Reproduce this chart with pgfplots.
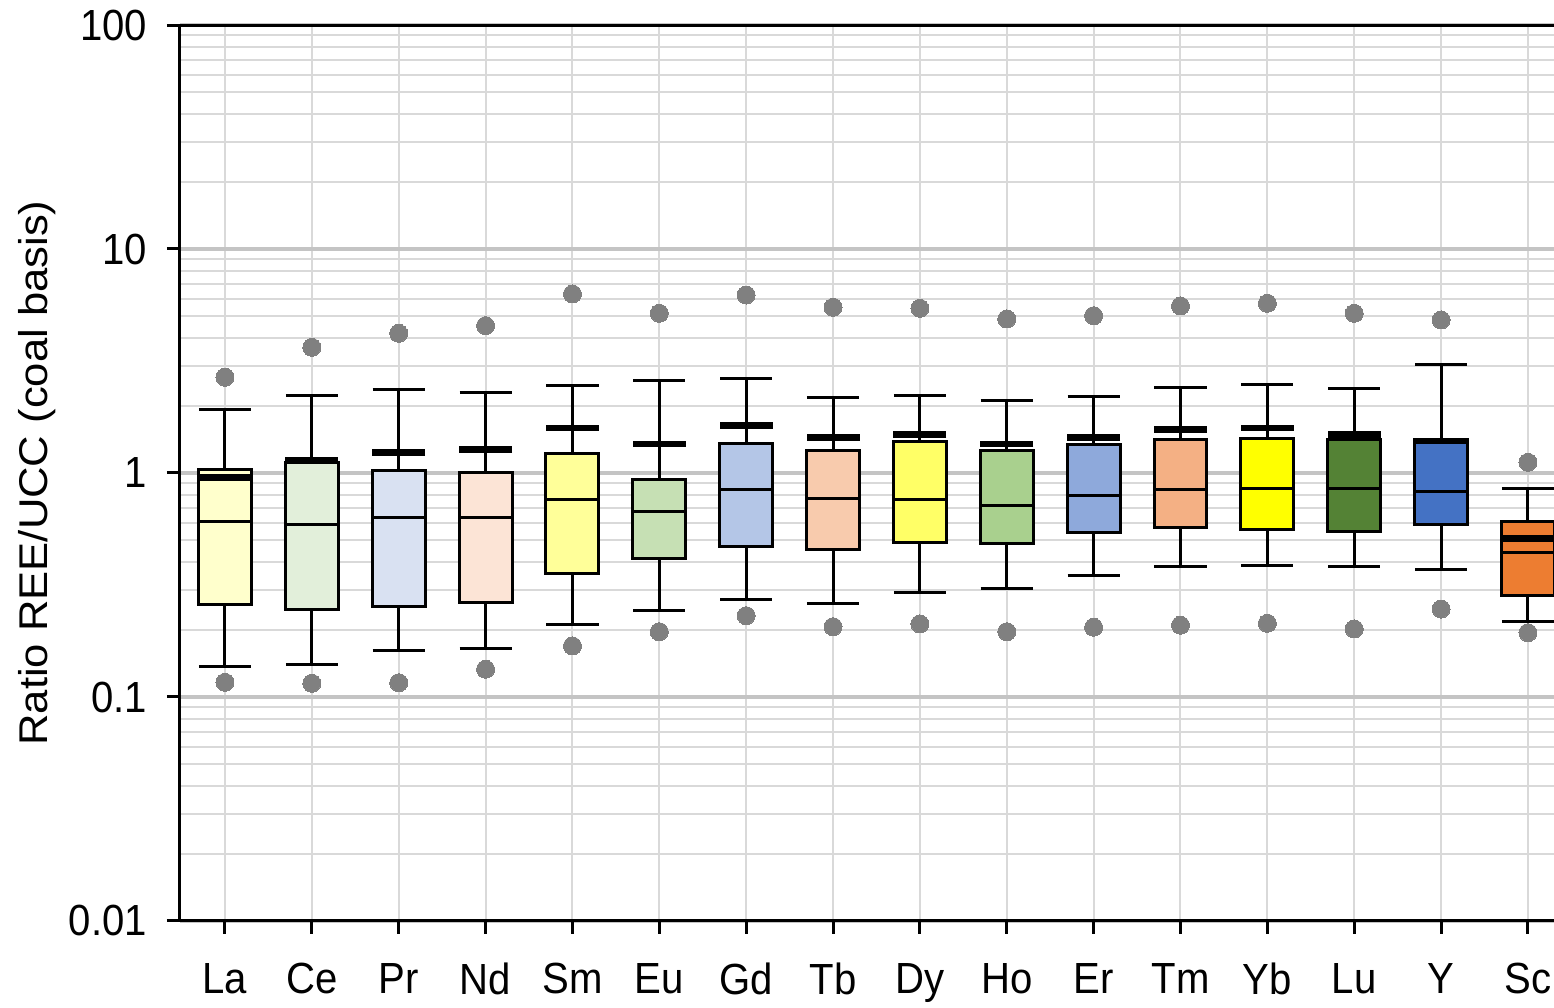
\documentclass[border=0pt]{standalone}
\usepackage{pgfplots}
\pgfplotsset{compat=1.18}
\usetikzlibrary{calc}
\usepackage{graphicx}
\usepackage{fontspec}
\setmainfont{Liberation Sans}
\newfontfamily\tickfont{Liberation Sans}[FakeStretch=0.92]
\definecolor{cLa}{HTML}{FFFFCC}
\definecolor{cCe}{HTML}{E2EFDA}
\definecolor{cPr}{HTML}{D9E1F2}
\definecolor{cNd}{HTML}{FCE4D6}
\definecolor{cSm}{HTML}{FFFF99}
\definecolor{cEu}{HTML}{C6E0B4}
\definecolor{cGd}{HTML}{B4C6E7}
\definecolor{cTb}{HTML}{F8CBAD}
\definecolor{cDy}{HTML}{FFFF66}
\definecolor{cHo}{HTML}{A9D08E}
\definecolor{cEr}{HTML}{8EA9DB}
\definecolor{cTm}{HTML}{F4B084}
\definecolor{cYb}{HTML}{FFFF00}
\definecolor{cLu}{HTML}{548235}
\definecolor{cY}{HTML}{4472C4}
\definecolor{cSc}{HTML}{ED7D31}
\definecolor{ogray}{HTML}{808080}
\definecolor{gminor}{HTML}{D9D9D9}
\definecolor{gmajor}{HTML}{C4C4C4}
% pos, colour, lower whisker, lower quartile, median, upper quartile, upper whisker, outlier low, outlier high
\newcommand{\bx}[9]{%
\pgfmathsetmacro\xl{#1-0.305}\pgfmathsetmacro\xr{#1+0.305}%
\pgfmathsetmacro\cl{#1-0.3}\pgfmathsetmacro\cr{#1+0.3}%
\addplot[black, line width=1.5pt] coordinates {(#1,#4) (#1,#3)};
\addplot[black, line width=1.5pt] coordinates {(#1,#6) (#1,#7)};
\addplot[black, line width=1.5pt] coordinates {(\cl,#3) (\cr,#3)};
\addplot[black, line width=1.5pt] coordinates {(\cl,#7) (\cr,#7)};
\addplot[fill=#2, draw=black, line width=1.5pt] coordinates {(\xl,#4) (\xr,#4) (\xr,#6) (\xl,#6)} -- cycle;
\addplot[black, line width=1.5pt] coordinates {(\xl,#5) (\xr,#5)};
\addplot[only marks, mark=*, mark size=4.5pt, mark options={draw=ogray, fill=ogray, line width=0pt}] coordinates {(#1,#8) (#1,#9)};
}
\begin{document}
\begin{tikzpicture}
\begin{axis}[
 name=ax,
 scale only axis, width=687pt, height=448pt,
 ymode=log, ymin=0.01, ymax=100,
 xmin=-0.518, xmax=15.3,
 xtick={0,...,15},
 xticklabels={La,Ce,Pr,Nd,Sm,Eu,Gd,Tb,Dy,Ho,Er,Tm,Yb,Lu,Y,Sc},
 ytick={0.01,0.1,1,10,100},
 yticklabels={0.01,0.1,1,10,100},
 axis x line*=box, axis y line*=left,
 xtick pos=left,
 axis line style={line width=1.5pt, -},
 tick align=outside, major tick length=6.5pt, minor tick length=0pt,
 every tick/.style={black, line width=1.5pt},
 xmajorgrids, ymajorgrids, yminorgrids,
 major grid style={gmajor, line width=2pt},
 minor grid style={gminor, line width=1pt},
 x grid style={gminor, line width=1pt},
 tick label style={font=\tickfont\fontsize{21.8}{26}\selectfont},
 yticklabel style={xshift=-6.5pt},
 xticklabel style={yshift=-11pt},
 ylabel={\scalebox{1}[0.92]{Ratio REE/UCC (coal basis)}},
 ylabel style={font=\fontsize{21.8}{26}\selectfont, at={(axis description cs:-0.104,0.5)}, anchor=center},
]
\bx{0}{cLa}{0.1375}{0.2594}{0.6105}{1.039}{1.925}{0.1163}{2.675}
\bx{1}{cCe}{0.139}{0.2446}{0.590}{1.112}{2.223}{0.1151}{3.64}
\bx{2}{cPr}{0.1621}{0.2548}{0.636}{1.021}{2.364}{0.1158}{4.205}
\bx{3}{cNd}{0.1643}{0.2636}{0.636}{1.010}{2.293}{0.1330}{4.547}
\bx{4}{cSm}{0.2097}{0.3577}{0.758}{1.224}{2.446}{0.169}{6.297}
\bx{5}{cEu}{0.2438}{0.4145}{0.672}{0.940}{2.594}{0.1957}{5.163}
\bx{6}{cGd}{0.272}{0.472}{0.848}{1.357}{2.629}{0.2307}{6.232}
\bx{7}{cTb}{0.262}{0.4564}{0.771}{1.266}{2.168}{0.206}{5.492}
\bx{8}{cDy}{0.2922}{0.4884}{0.758}{1.38}{2.223}{0.2118}{5.436}
\bx{9}{cHo}{0.3035}{0.482}{0.7175}{1.266}{2.111}{0.1957}{4.87}
\bx{10}{cEr}{0.3494}{0.5452}{0.7896}{1.343}{2.191}{0.2048}{5.038}
\bx{11}{cTm}{0.3833}{0.5723}{0.848}{1.414}{2.42}{0.209}{5.567}
\bx{12}{cYb}{0.3884}{0.5623}{0.857}{1.433}{2.489}{0.2133}{5.723}
\bx{13}{cLu}{0.3833}{0.547}{0.8546}{1.404}{2.388}{0.2012}{5.163}
\bx{14}{cY}{0.3716}{0.592}{0.825}{1.41}{3.044}{0.247}{4.82}
\bx{15}{cSc}{0.2162}{0.2844}{0.4394}{0.606}{0.8546}{0.1937}{1.116}
\addplot[only marks, mark=-, mark size=13.25pt, mark options={line width=3.25pt, black, solid}] coordinates {
(0,0.957) (1,1.135) (2,1.237) (3,1.276) (4,1.588) (5,1.347) (6,1.633) (7,1.443)
(8,1.483) (9,1.347) (10,1.443) (11,1.567) (12,1.588) (13,1.489) (14,1.39) (15,0.511)};
\end{axis}
\pgfresetboundingbox
\path ($(ax.south west)+(-90pt,-43.5pt)$) rectangle ($(ax.north east)+(0pt,12.5pt)$);
\end{tikzpicture}
\end{document}
